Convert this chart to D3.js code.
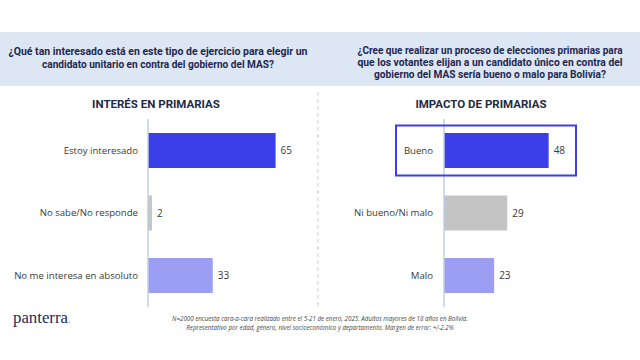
<!DOCTYPE html>
<html><head><meta charset="utf-8">
<script src="https://cdn.jsdelivr.net/npm/d3@7"></script>
<style>body{margin:0;background:#fff}svg{display:block}</style>
</head><body><svg id="c" width="640" height="360"></svg>
<script>
const leftTitle = "INTERÉS EN PRIMARIAS";
const rightTitle = "IMPACTO DE PRIMARIAS";
const leftQuestion = ["¿Qué tan interesado está en este tipo de ejercicio para elegir un", "candidato unitario en contra del gobierno del MAS?"];
const rightQuestion = ["¿Cree que realizar un proceso de elecciones primarias para", "que los votantes elijan a un candidato único en contra del", "gobierno del MAS sería bueno o malo para Bolivia?"];
const leftCats = ["Estoy interesado", "No sabe/No responde", "No me interesa en absoluto"];
const leftVals = [65, 2, 33];
const rightCats = ["Bueno", "Ni bueno/Ni malo", "Malo"];
const rightVals = [48, 29, 23];
const barColors = ["#3a3fe8", "#c4c4c4", "#9c9ef3"];
const footnote = ["N=2000 encuesta cara-a-cara realizado entre el 5-21 de enero, 2025. Adultos mayores de 18 años en Bolivia.", "Representativo por edad, género, nivel socioeconómico y departamento. Margen de error: +/-2.2%"];

const svg = d3.select("#c");
const navy = "#1f2750";

// header band
svg.append("rect").attr("x",0).attr("y",32).attr("width",640).attr("height",54).attr("fill","#dde7f4");
const qFont = "Roboto, 'Liberation Sans', sans-serif";
leftQuestion.forEach((t,i)=>{
  svg.append("text").attr("x",158).attr("y",55+i*13).attr("text-anchor","middle")
    .attr("font-family",qFont).attr("font-weight","bold").attr("font-size",10.5).attr("fill",navy)
    .attr("textLength", i===0?299:232).attr("lengthAdjust","spacingAndGlyphs").text(t);
});
const rqW=[265,265,232];
rightQuestion.forEach((t,i)=>{
  svg.append("text").attr("x",490).attr("y",53.5+i*12.3).attr("text-anchor","middle")
    .attr("font-family",qFont).attr("font-weight","bold").attr("font-size",10.5).attr("fill",navy)
    .attr("textLength", rqW[i]).attr("lengthAdjust","spacingAndGlyphs").text(t);
});

// separator
svg.append("line").attr("x1",318).attr("x2",318).attr("y1",92).attr("y2",307)
  .attr("stroke","#cfcfcf").attr("stroke-width",1).attr("stroke-dasharray","4,3");

function panel(cats, vals, x0, maxPx, titleX, title, labelGap){
  const x = d3.scaleLinear().domain([0,100]).range([x0, x0+maxPx]);
  const y = d3.scaleBand().domain(cats).range([119.25,306.75]).paddingInner(0.44).paddingOuter(0.22);
  const g = svg.append("g");
  g.append("text").attr("x",titleX).attr("y",108).attr("text-anchor","middle")
    .attr("font-family",qFont).attr("font-weight","bold").attr("font-size",11.5).attr("fill","#222a44")
    .text(title);
  g.selectAll("rect.bar").data(vals).join("rect").attr("class","bar")
    .attr("x",x(0)).attr("y",(d,i)=>y(cats[i])).attr("width",d=>x(d)-x(0)).attr("height",y.bandwidth())
    .attr("fill",(d,i)=>barColors[i]);
  g.append("line").attr("x1",x0).attr("x2",x0).attr("y1",119).attr("y2",307)
    .attr("stroke","#bccfea").attr("stroke-width",1.5);
  g.selectAll("text.cat").data(cats).join("text").attr("class","cat")
    .attr("x",x0-labelGap).attr("y",d=>y(d)+y.bandwidth()/2).attr("dy","0.35em").attr("text-anchor","end")
    .attr("font-family","'Open Sans', sans-serif").attr("font-size",9.6).attr("fill","#3a3a3a").text(d=>d);
  g.selectAll("text.val").data(vals).join("text").attr("class","val")
    .attr("x",d=>x(d)+5).attr("y",(d,i)=>y(cats[i])+y.bandwidth()/2).attr("dy","0.35em")
    .attr("font-family","'Open Sans', sans-serif").attr("font-size",10).attr("fill","#3a3a3a").text(d=>d);
  return {x,y};
}
panel(leftCats, leftVals, 148, 196.3, 156, leftTitle, 10);
const r = panel(rightCats, rightVals, 444, 218, 481, rightTitle, 11);

// highlight box around first right category
svg.append("rect").attr("x",396).attr("y",r.y(rightCats[0])-7.5).attr("width",180).attr("height",r.y.bandwidth()+15)
  .attr("fill","none").attr("stroke","#3a3fe8").attr("stroke-width",2);

// footer
const logo = svg.append("text").attr("x",13).attr("y",323).attr("font-family","'Liberation Serif', 'DejaVu Serif', serif")
  .attr("font-size",16).attr("fill","#2b2860");
logo.append("tspan").attr("textLength",55).attr("lengthAdjust","spacingAndGlyphs").text("panterra");
logo.append("tspan").attr("font-size",11).attr("fill","#9a98bd").text(".");
footnote.forEach((t,i)=>{
  svg.append("text").attr("x",320).attr("y",321+i*8.5).attr("text-anchor","middle")
    .attr("font-family","'Open Sans', sans-serif").attr("font-style","italic").attr("font-size",6.2)
    .attr("fill","#444").text(t);
});
</script></body></html>
